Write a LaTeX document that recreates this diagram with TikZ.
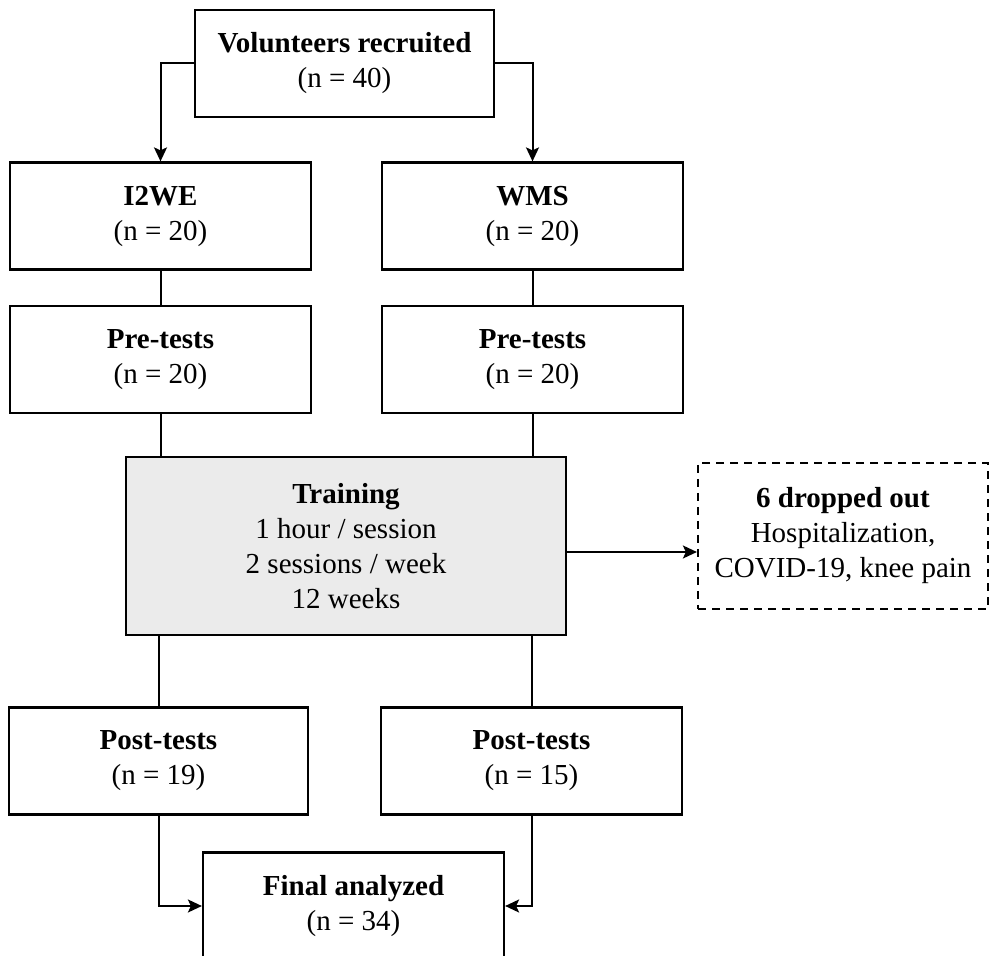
\documentclass[tikz,border=0pt]{standalone}
\usepackage{fontspec}
\setmainfont{Liberation Serif}
\usetikzlibrary{arrows.meta}

\begin{document}
\begin{tikzpicture}[x=0.5pt, y=-0.5pt,
        box/.style={shape=rectangle, draw=black, line width=1.1pt, align=center,
            font=\fontsize{14.5}{17.5}\selectfont, inner sep=0pt},
        wbox/.style={box, minimum width=150.5pt, minimum height=53.5pt},
        link/.style={line width=1pt},
        arr/.style={link, -{Stealth[length=7pt, width=6.5pt, inset=1.5pt]}}]
        \useasboundingbox (0, 0) rectangle (991, 956);
        \node[wbox, minimum width=149.5pt] (vol) at (344.5, 63.5) {\textbf{Volunteers recruited}\\(n = 40)};
        \node[wbox] (i2we) at (160.5, 216) {\textbf{I2WE}\\(n = 20)};
        \node[wbox] (wms) at (532.5, 216) {\textbf{WMS}\\(n = 20)};
        \node[wbox] (pre1) at (160.5, 359.5) {\textbf{Pre-tests}\\(n = 20)};
        \node[wbox] (pre2) at (532.5, 359.5) {\textbf{Pre-tests}\\(n = 20)};
        \node[box, fill={rgb,255:red,235;green,235;blue,235}, minimum width=220pt, minimum height=89pt] (train) at (346, 546)
            {\textbf{Training}\\1 hour / session\\2 sessions / week\\12 weeks};
        \node[box, dashed, dash pattern=on 4pt off 3pt, minimum width=145pt, minimum height=73pt] (drop) at (843, 536)
            {\textbf{6 dropped out}\\Hospitalization,\\COVID-19, knee pain};
        \node[wbox, minimum width=149.5pt] (post1) at (158.5, 761) {\textbf{Post-tests}\\(n = 19)};
        \node[wbox] (post2) at (531.5, 761) {\textbf{Post-tests}\\(n = 15)};
        \node[wbox] (final) at (353.5, 906) {\textbf{Final analyzed}\\(n = 34)};
        \coordinate (exit) at (566, 552);
        \draw[arr] (vol.west) -| (i2we.north);
        \draw[arr] (vol.east) -| (wms.north);
        \draw[link] (i2we) to (pre1);
        \draw[link] (wms) to (pre2);
        \draw[link] (pre1.south) to (pre1.south |- train.north);
        \draw[link] (pre2.south) to (pre2.south |- train.north);
        \draw[link] (post1.north |- train.south) to (post1.north);
        \draw[link] (post2.north |- train.south) to (post2.north);
        \draw[arr] (exit) to (exit -| drop.west);
        \draw[arr] (post1.south) |- (final.west);
        \draw[arr] (post2.south) |- (final.east);
    \end{tikzpicture}
\end{document}
